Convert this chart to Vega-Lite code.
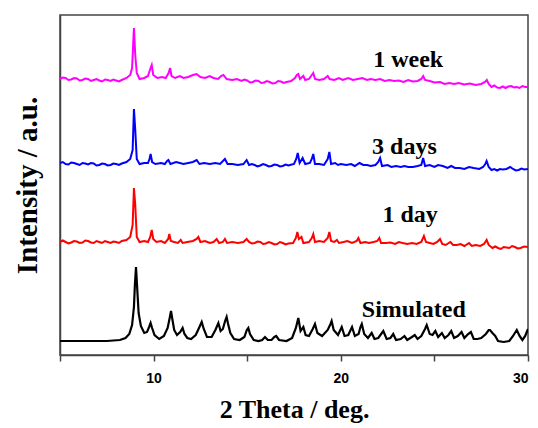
{
  "$schema": "https://vega.github.io/schema/vega-lite/v6.json",
  "width": 468,
  "height": 340,
  "autosize": "none",
  "padding": {"left": 60, "top": 15, "right": 10, "bottom": 73},
  "background": "white",
  "config": {
    "view": {"stroke": "#444", "strokeWidth": 1.5},
    "axis": {"grid": false, "domainColor": "#444", "domainWidth": 1.5, "tickColor": "#444", "tickWidth": 1.5}
  },
  "datasets": {
    "sim": [
      {"x":5,"y":14},{"x":7.5,"y":14},{"x":8.2,"y":15},{"x":8.5,"y":17},{"x":8.7,"y":21},{"x":8.85,"y":30},{"x":8.95,"y":48},{"x":9.0,"y":70},{"x":9.06,"y":88},{"x":9.12,"y":68},{"x":9.2,"y":42},{"x":9.32,"y":29},{"x":9.5,"y":22},{"x":9.65,"y":23},{"x":9.76,"y":28},{"x":9.84,"y":32},{"x":9.92,"y":27},{"x":10.05,"y":20},{"x":10.3,"y":16},{"x":10.55,"y":19},{"x":10.75,"y":27},{"x":10.87,"y":38},{"x":10.93,"y":44},{"x":11.0,"y":36},{"x":11.1,"y":25},{"x":11.25,"y":20},{"x":11.42,"y":23},{"x":11.55,"y":27},{"x":11.65,"y":21},{"x":11.8,"y":17},{"x":12.0,"y":16},{"x":12.25,"y":20},{"x":12.45,"y":28},{"x":12.57,"y":33},{"x":12.68,"y":26},{"x":12.85,"y":18},{"x":13.1,"y":18},{"x":13.3,"y":25},{"x":13.46,"y":32},{"x":13.58,"y":24},{"x":13.7,"y":26},{"x":13.82,"y":34},{"x":13.9,"y":38},{"x":13.98,"y":31},{"x":14.1,"y":22},{"x":14.3,"y":16},{"x":14.6,"y":15},{"x":14.85,"y":18},{"x":14.98,"y":25},{"x":15.06,"y":27},{"x":15.15,"y":21},{"x":15.35,"y":15},{"x":15.6,"y":14},{"x":15.8,"y":15},{"x":15.95,"y":18},{"x":16.1,"y":15},{"x":16.3,"y":15},{"x":16.45,"y":18},{"x":16.55,"y":19},{"x":16.7,"y":15},{"x":17.1,"y":14},{"x":17.4,"y":17},{"x":17.6,"y":27},{"x":17.73,"y":37},{"x":17.85,"y":24},{"x":18.0,"y":28},{"x":18.12,"y":20},{"x":18.3,"y":19},{"x":18.5,"y":26},{"x":18.62,"y":31},{"x":18.75,"y":22},{"x":19.0,"y":19},{"x":19.3,"y":25},{"x":19.45,"y":31},{"x":19.51,"y":34},{"x":19.62,"y":25},{"x":19.85,"y":20},{"x":20.0,"y":26},{"x":20.05,"y":28},{"x":20.2,"y":19},{"x":20.4,"y":20},{"x":20.55,"y":26},{"x":20.6,"y":28},{"x":20.75,"y":19},{"x":20.95,"y":21},{"x":21.05,"y":28},{"x":21.12,"y":31},{"x":21.25,"y":21},{"x":21.45,"y":17},{"x":21.65,"y":22},{"x":21.8,"y":16},{"x":22.0,"y":17},{"x":22.27,"y":24},{"x":22.45,"y":16},{"x":22.65,"y":17},{"x":22.8,"y":21},{"x":22.95,"y":15},{"x":23.2,"y":16},{"x":23.4,"y":19},{"x":23.55,"y":15},{"x":23.8,"y":18},{"x":23.95,"y":20},{"x":24.1,"y":16},{"x":24.3,"y":19},{"x":24.5,"y":26},{"x":24.59,"y":30},{"x":24.75,"y":21},{"x":24.9,"y":20},{"x":25.05,"y":24},{"x":25.2,"y":18},{"x":25.4,"y":22},{"x":25.55,"y":17},{"x":25.75,"y":20},{"x":25.9,"y":24},{"x":26.05,"y":17},{"x":26.25,"y":19},{"x":26.45,"y":23},{"x":26.6,"y":17},{"x":26.8,"y":21},{"x":26.95,"y":23},{"x":27.1,"y":16},{"x":27.3,"y":16},{"x":27.5,"y":17},{"x":27.75,"y":21},{"x":27.9,"y":25},{"x":27.97,"y":25},{"x":28.1,"y":22},{"x":28.25,"y":19},{"x":28.4,"y":14},{"x":28.7,"y":13},{"x":29.0,"y":14},{"x":29.2,"y":19},{"x":29.4,"y":25},{"x":29.55,"y":19},{"x":29.7,"y":15},{"x":29.85,"y":19},{"x":30.0,"y":26}
    ],
    "day1": [
      {"x":5,"y":113},{"x":5.15,"y":114.5},{"x":5.3,"y":113},{"x":5.45,"y":111.5},{"x":5.6,"y":112.5},{"x":5.75,"y":114},{"x":5.9,"y":113.5},{"x":6.05,"y":112},{"x":6.2,"y":112.5},{"x":6.35,"y":114.5},{"x":6.5,"y":114},{"x":6.65,"y":112.5},{"x":6.8,"y":112},{"x":6.95,"y":114},{"x":7.1,"y":113},{"x":7.25,"y":112},{"x":7.4,"y":114},{"x":7.55,"y":113},{"x":7.7,"y":112},{"x":7.85,"y":113.5},{"x":8.0,"y":113},{"x":8.15,"y":112},{"x":8.3,"y":114},{"x":8.55,"y":115},{"x":8.75,"y":118},{"x":8.88,"y":130},{"x":8.95,"y":167},{"x":9.02,"y":150},{"x":9.1,"y":118},{"x":9.25,"y":113},{"x":9.5,"y":114},{"x":9.7,"y":113},{"x":9.82,"y":118},{"x":9.9,"y":125},{"x":9.98,"y":116},{"x":10.15,"y":113},{"x":10.4,"y":114},{"x":10.6,"y":112},{"x":10.78,"y":116},{"x":10.84,"y":121},{"x":10.92,"y":114},{"x":11.1,"y":113},{"x":11.3,"y":112},{"x":11.45,"y":115},{"x":11.55,"y":112},{"x":11.8,"y":113},{"x":12.1,"y":114},{"x":12.3,"y":116},{"x":12.39,"y":118},{"x":12.5,"y":113},{"x":12.75,"y":114},{"x":13.0,"y":112},{"x":13.2,"y":113},{"x":13.37,"y":116},{"x":13.5,"y":112},{"x":13.7,"y":113},{"x":13.81,"y":116},{"x":13.92,"y":112},{"x":14.2,"y":113},{"x":14.5,"y":112},{"x":14.8,"y":113},{"x":14.97,"y":116},{"x":15.1,"y":113},{"x":15.25,"y":111.5},{"x":15.4,"y":112},{"x":15.55,"y":113.5},{"x":15.7,"y":113},{"x":15.85,"y":111},{"x":16.0,"y":111.5},{"x":16.15,"y":113},{"x":16.3,"y":112},{"x":16.45,"y":110.5},{"x":16.6,"y":111},{"x":16.75,"y":113},{"x":16.9,"y":112},{"x":17.05,"y":110.5},{"x":17.2,"y":111.5},{"x":17.45,"y":112},{"x":17.6,"y":117},{"x":17.68,"y":123},{"x":17.76,"y":116},{"x":17.9,"y":118},{"x":18.0,"y":112},{"x":18.3,"y":113},{"x":18.45,"y":117},{"x":18.53,"y":121},{"x":18.62,"y":113},{"x":18.85,"y":114},{"x":19.1,"y":113},{"x":19.3,"y":117},{"x":19.39,"y":123},{"x":19.48,"y":114},{"x":19.65,"y":113},{"x":19.79,"y":115},{"x":19.9,"y":112},{"x":20.15,"y":113},{"x":20.35,"y":114},{"x":20.6,"y":112},{"x":20.85,"y":114},{"x":20.94,"y":117},{"x":21.05,"y":112},{"x":21.3,"y":113},{"x":21.5,"y":112},{"x":21.75,"y":113},{"x":21.95,"y":114},{"x":22.06,"y":117},{"x":22.15,"y":112},{"x":22.4,"y":112},{"x":22.65,"y":112.5},{"x":22.9,"y":111},{"x":23.1,"y":113},{"x":23.3,"y":112},{"x":23.55,"y":111},{"x":23.8,"y":112},{"x":24.05,"y":111},{"x":24.3,"y":113},{"x":24.44,"y":119},{"x":24.55,"y":113},{"x":24.75,"y":112},{"x":24.95,"y":111},{"x":25.15,"y":113},{"x":25.3,"y":116},{"x":25.42,"y":111},{"x":25.6,"y":110},{"x":25.85,"y":113},{"x":26.0,"y":110},{"x":26.2,"y":110},{"x":26.4,"y":111},{"x":26.6,"y":109},{"x":26.85,"y":112},{"x":27.0,"y":109},{"x":27.2,"y":110},{"x":27.45,"y":109},{"x":27.65,"y":111},{"x":27.79,"y":115},{"x":27.9,"y":110},{"x":28.1,"y":107},{"x":28.25,"y":108.5},{"x":28.4,"y":107},{"x":28.55,"y":106},{"x":28.7,"y":108},{"x":28.85,"y":107.5},{"x":29.0,"y":107},{"x":29.15,"y":109},{"x":29.3,"y":108},{"x":29.45,"y":106.5},{"x":29.6,"y":107},{"x":29.8,"y":108.5},{"x":30.0,"y":108}
    ],
    "day3": [
      {"x":5,"y":192},{"x":5.15,"y":193},{"x":5.3,"y":191},{"x":5.45,"y":190.5},{"x":5.6,"y":192.5},{"x":5.75,"y":192},{"x":5.9,"y":191},{"x":6.05,"y":190},{"x":6.2,"y":192},{"x":6.35,"y":191.5},{"x":6.5,"y":190.5},{"x":6.65,"y":192},{"x":6.8,"y":191.5},{"x":6.95,"y":189.5},{"x":7.1,"y":190},{"x":7.25,"y":191.5},{"x":7.4,"y":191},{"x":7.55,"y":189.5},{"x":7.7,"y":190},{"x":7.85,"y":191.5},{"x":8.0,"y":191},{"x":8.15,"y":190},{"x":8.3,"y":191.5},{"x":8.55,"y":193},{"x":8.75,"y":196},{"x":8.88,"y":205},{"x":8.95,"y":246},{"x":9.02,"y":225},{"x":9.1,"y":196},{"x":9.25,"y":191},{"x":9.5,"y":192},{"x":9.7,"y":192},{"x":9.78,"y":196},{"x":9.84,"y":201},{"x":9.92,"y":193},{"x":10.1,"y":191},{"x":10.4,"y":192},{"x":10.6,"y":191},{"x":10.72,"y":194},{"x":10.79,"y":195},{"x":10.9,"y":191},{"x":11.2,"y":193},{"x":11.4,"y":192},{"x":11.6,"y":191},{"x":11.85,"y":192},{"x":12.1,"y":193},{"x":12.3,"y":195},{"x":12.45,"y":191},{"x":12.7,"y":192},{"x":13.0,"y":191},{"x":13.3,"y":192},{"x":13.55,"y":191},{"x":13.81,"y":196},{"x":13.95,"y":191},{"x":14.2,"y":191},{"x":14.5,"y":190},{"x":14.8,"y":191},{"x":14.97,"y":195},{"x":15.1,"y":190},{"x":15.25,"y":191},{"x":15.4,"y":190},{"x":15.55,"y":188.5},{"x":15.7,"y":189.5},{"x":15.85,"y":191},{"x":16.0,"y":190},{"x":16.15,"y":188.5},{"x":16.3,"y":189},{"x":16.45,"y":190.5},{"x":16.6,"y":190},{"x":16.75,"y":188.5},{"x":16.9,"y":189},{"x":17.05,"y":190.5},{"x":17.2,"y":189.5},{"x":17.5,"y":191},{"x":17.62,"y":196},{"x":17.7,"y":202},{"x":17.8,"y":192},{"x":17.96,"y":197},{"x":18.1,"y":191},{"x":18.35,"y":192},{"x":18.45,"y":196},{"x":18.53,"y":201},{"x":18.62,"y":191},{"x":18.85,"y":191},{"x":19.1,"y":190},{"x":19.3,"y":196},{"x":19.39,"y":203},{"x":19.48,"y":191},{"x":19.7,"y":192},{"x":19.85,"y":190},{"x":20.0,"y":191},{"x":20.3,"y":190},{"x":20.55,"y":191},{"x":20.75,"y":189},{"x":21.0,"y":192},{"x":21.2,"y":190},{"x":21.4,"y":190},{"x":21.6,"y":189},{"x":21.85,"y":190},{"x":22.0,"y":193},{"x":22.1,"y":197},{"x":22.2,"y":189},{"x":22.5,"y":190},{"x":22.7,"y":188},{"x":22.95,"y":189},{"x":23.2,"y":188},{"x":23.4,"y":189},{"x":23.6,"y":188},{"x":23.85,"y":188},{"x":24.1,"y":189},{"x":24.3,"y":190},{"x":24.4,"y":197},{"x":24.5,"y":189},{"x":24.75,"y":190},{"x":25.0,"y":188},{"x":25.2,"y":190},{"x":25.45,"y":189},{"x":25.7,"y":187},{"x":25.9,"y":189},{"x":26.1,"y":187},{"x":26.35,"y":187},{"x":26.6,"y":186},{"x":26.85,"y":188},{"x":27.1,"y":187},{"x":27.4,"y":186},{"x":27.6,"y":188},{"x":27.72,"y":191},{"x":27.79,"y":194},{"x":27.9,"y":188},{"x":28.05,"y":185},{"x":28.2,"y":186},{"x":28.35,"y":184.5},{"x":28.5,"y":186},{"x":28.65,"y":185.5},{"x":28.85,"y":186},{"x":29.05,"y":188},{"x":29.2,"y":186},{"x":29.35,"y":184.5},{"x":29.5,"y":185},{"x":29.65,"y":186.5},{"x":29.8,"y":185.5},{"x":30.0,"y":186}
    ],
    "week1": [
      {"x":5,"y":276},{"x":5.15,"y":277.5},{"x":5.3,"y":277},{"x":5.45,"y":275},{"x":5.6,"y":275.5},{"x":5.75,"y":277},{"x":5.9,"y":276.5},{"x":6.05,"y":274.5},{"x":6.2,"y":275},{"x":6.35,"y":276.5},{"x":6.5,"y":276},{"x":6.65,"y":274},{"x":6.8,"y":275},{"x":6.95,"y":276},{"x":7.1,"y":274.5},{"x":7.25,"y":273.5},{"x":7.4,"y":275.5},{"x":7.55,"y":275},{"x":7.7,"y":274},{"x":7.85,"y":275.5},{"x":8.0,"y":274.5},{"x":8.15,"y":273.5},{"x":8.3,"y":275},{"x":8.55,"y":277},{"x":8.75,"y":280},{"x":8.85,"y":287},{"x":8.95,"y":327},{"x":9.02,"y":300},{"x":9.1,"y":282},{"x":9.25,"y":276},{"x":9.5,"y":277},{"x":9.7,"y":279},{"x":9.82,"y":286},{"x":9.9,"y":290},{"x":9.98,"y":280},{"x":10.2,"y":277},{"x":10.45,"y":278},{"x":10.65,"y":277},{"x":10.8,"y":282},{"x":10.88,"y":287},{"x":10.96,"y":279},{"x":11.15,"y":277},{"x":11.4,"y":279},{"x":11.6,"y":277},{"x":11.85,"y":278},{"x":12.1,"y":280},{"x":12.3,"y":281},{"x":12.5,"y":278},{"x":12.75,"y":277},{"x":13.0,"y":279},{"x":13.2,"y":277},{"x":13.45,"y":276},{"x":13.6,"y":279},{"x":13.73,"y":280},{"x":13.9,"y":276},{"x":14.2,"y":275},{"x":14.45,"y":276},{"x":14.7,"y":274},{"x":14.85,"y":275.5},{"x":15.0,"y":274.5},{"x":15.15,"y":272.5},{"x":15.3,"y":273},{"x":15.45,"y":274.5},{"x":15.6,"y":274},{"x":15.75,"y":272},{"x":15.9,"y":272.5},{"x":16.05,"y":274},{"x":16.2,"y":273},{"x":16.35,"y":271.5},{"x":16.5,"y":272},{"x":16.65,"y":274},{"x":16.8,"y":273.5},{"x":16.95,"y":272},{"x":17.1,"y":273},{"x":17.35,"y":274},{"x":17.55,"y":277},{"x":17.65,"y":280},{"x":17.73,"y":281},{"x":17.82,"y":276},{"x":18.0,"y":279},{"x":18.1,"y":275},{"x":18.3,"y":276},{"x":18.45,"y":280},{"x":18.53,"y":282},{"x":18.62,"y":276},{"x":18.85,"y":275},{"x":19.1,"y":276},{"x":19.3,"y":279},{"x":19.4,"y":276},{"x":19.65,"y":275},{"x":19.9,"y":277},{"x":20.1,"y":275},{"x":20.4,"y":277},{"x":20.65,"y":275},{"x":20.9,"y":276},{"x":21.15,"y":277},{"x":21.4,"y":275},{"x":21.6,"y":276},{"x":21.85,"y":275},{"x":22.1,"y":276},{"x":22.35,"y":274},{"x":22.6,"y":275},{"x":22.85,"y":274},{"x":23.1,"y":274.5},{"x":23.35,"y":273},{"x":23.6,"y":275},{"x":23.85,"y":273.5},{"x":24.1,"y":274},{"x":24.3,"y":276},{"x":24.4,"y":279},{"x":24.5,"y":275},{"x":24.75,"y":274},{"x":25.0,"y":272.5},{"x":25.3,"y":273},{"x":25.55,"y":271},{"x":25.8,"y":272},{"x":26.05,"y":271},{"x":26.3,"y":272},{"x":26.6,"y":270.5},{"x":26.9,"y":271.5},{"x":27.2,"y":270},{"x":27.5,"y":271},{"x":27.7,"y":273},{"x":27.8,"y":275},{"x":27.9,"y":271},{"x":28.05,"y":268},{"x":28.2,"y":269.5},{"x":28.35,"y":267.5},{"x":28.5,"y":267},{"x":28.65,"y":268.5},{"x":28.8,"y":267},{"x":28.95,"y":268.5},{"x":29.1,"y":269},{"x":29.25,"y":267.5},{"x":29.4,"y":268},{"x":29.55,"y":267},{"x":29.7,"y":269},{"x":29.85,"y":268},{"x":30.0,"y":268}
    ],
    "labels": [
      {"x":23.6,"y":295,"t":"1 week"},
      {"x":23.4,"y":208,"t":"3 days"},
      {"x":23.7,"y":140,"t":"1 day"},
      {"x":23.9,"y":45,"t":"Simulated"}
    ]
  },
  "layer": [
    {
      "data": {"name": "sim"},
      "mark": {"type": "line", "color": "#000000", "strokeWidth": 2.2, "clip": true},
      "encoding": {
        "x": {"field": "x", "type": "quantitative", "scale": {"domain": [5, 30], "nice": false},
          "axis": {"values": [5, 10, 15, 20, 25, 30], "labelExpr": "datum.value % 10 == 0 ? datum.label : ''",
            "labelFont": "Liberation Sans", "labelFontWeight": "bold", "labelFontSize": 14, "labelColor": "#000",
            "labelPadding": 10, "tickSize": 6,
            "title": "2 Theta / deg.", "titleFont": "Liberation Serif", "titleFontWeight": "bold", "titleFontSize": 26, "titleColor": "#000", "titlePadding": 11}},
        "y": {"field": "y", "type": "quantitative", "scale": {"domain": [0, 340], "nice": false, "zero": false},
          "axis": {"labels": false, "ticks": false, "title": "Intensity / a.u.", "titleFont": "Liberation Serif", "titleFontWeight": "bold", "titleFontSize": 29, "titleColor": "#000", "titlePadding": 18}}
      }
    },
    {
      "data": {"name": "day1"},
      "mark": {"type": "line", "color": "#ff0000", "strokeWidth": 2, "clip": true},
      "encoding": {"x": {"field": "x", "type": "quantitative"}, "y": {"field": "y", "type": "quantitative"}}
    },
    {
      "data": {"name": "day3"},
      "mark": {"type": "line", "color": "#0000ff", "strokeWidth": 2, "clip": true},
      "encoding": {"x": {"field": "x", "type": "quantitative"}, "y": {"field": "y", "type": "quantitative"}}
    },
    {
      "data": {"name": "week1"},
      "mark": {"type": "line", "color": "#ff00ff", "strokeWidth": 2, "clip": true},
      "encoding": {"x": {"field": "x", "type": "quantitative"}, "y": {"field": "y", "type": "quantitative"}}
    },
    {
      "data": {"name": "labels"},
      "mark": {"type": "text", "font": "Liberation Serif", "fontWeight": "bold", "fontSize": 24, "color": "#000", "align": "center", "baseline": "middle"},
      "encoding": {"x": {"field": "x", "type": "quantitative"}, "y": {"field": "y", "type": "quantitative"}, "text": {"field": "t"}}
    }
  ]
}
